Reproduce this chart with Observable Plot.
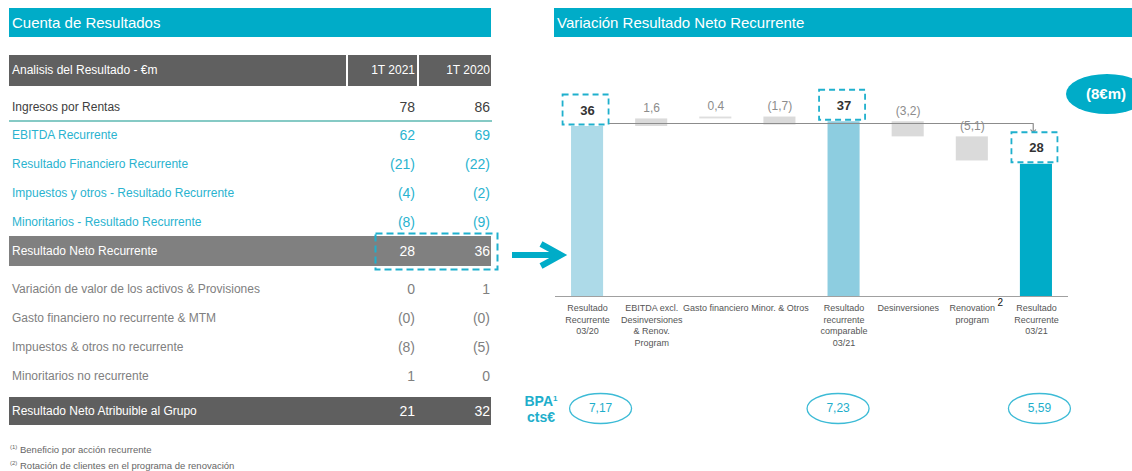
<!DOCTYPE html>
<html>
<head>
<meta charset="utf-8">
<script src="https://cdn.jsdelivr.net/npm/d3@7"></script>
<script src="https://cdn.jsdelivr.net/npm/@observablehq/plot@0.6"></script>
<style>
  html, body { margin: 0; padding: 0; background: #fff; }
  body { width: 1132px; height: 471px; overflow: hidden; font-family: "Liberation Sans", Arial, sans-serif; }
  #page { position: relative; width: 1132px; height: 471px; overflow: hidden; }
  .abs { position: absolute; }
  .hdr { background: #00ACC8; color: #fff; font-size: 15px; height: 29px; line-height: 29px; box-sizing: border-box; padding-left: 3px; }
  .row { position: absolute; left: 9px; width: 482px; height: 20px; line-height: 20px; }
  .row .lab { position: absolute; left: 3px; font-size: 12px; white-space: nowrap; }
  .row .v1 { position: absolute; right: 76px; font-size: 14px; }
  .row .v2 { position: absolute; right: 1px; font-size: 14px; }
  .foot { position: absolute; left: 10px; font-size: 9.5px; color: #666; white-space: nowrap; }
  .foot sup { font-size: 6px; vertical-align: 4px; }
</style>
</head>
<body>
<div id="page">
  <div class="abs hdr" style="left:9px;top:8px;width:482px;">Cuenta de Resultados</div>
  <div class="abs hdr" style="left:554px;top:8px;width:578px;">Variación Resultado Neto Recurrente</div>
  <div id="table"></div>
  <div id="chart" class="abs" style="left:540px;top:45px;"></div>
</div>
<script>
// ---------- Table data ----------
const tableHeader = ["Analisis del Resultado - €m", "1T 2021", "1T 2020"];
const tableLabels = [
  "Ingresos por Rentas",
  "EBITDA Recurrente",
  "Resultado Financiero Recurrente",
  "Impuestos y otros - Resultado Recurrente",
  "Minoritarios - Resultado Recurrente",
  "Resultado Neto Recurrente",
  "Variación de valor de los activos & Provisiones",
  "Gasto financiero no recurrente & MTM",
  "Impuestos & otros no recurrente",
  "Minoritarios no recurrente",
  "Resultado Neto Atribuible al Grupo"
];
const table2021 = ["78", "62", "(21)", "(4)", "(8)", "28", "0", "(0)", "(8)", "1", "21"];
const table2020 = ["86", "69", "(22)", "(2)", "(9)", "36", "1", "(0)", "(5)", "0", "32"];
const footnotes = [
  ["(1)", "Beneficio por acción recurrente"],
  ["(2)", "Rotación de clientes en el programa de renovación"]
];

// ---------- Chart data ----------
const steps = [
  "Resultado\nRecurrente\n03/20",
  "EBITDA excl.\nDesinversiones\n& Renov.\nProgram",
  "Gasto financiero",
  "Minor. & Otros",
  "Resultado\nrecurrente\ncomparable\n03/21",
  "Desinversiones",
  "Renovation\nprogram",
  "Resultado\nRecurrente\n03/21"
];
const stepValues = [36, 1.6, 0.4, -1.7, 37, -3.2, -5.1, 28];
const stepIsTotal = [true, false, false, false, true, false, false, true];
const stepLabels = ["36", "1,6", "0,4", "(1,7)", "37", "(3,2)", "(5,1)", "28"];
const stepNotes = ["", "", "", "", "", "", "2", ""];
const bpaSteps = [0, 4, 7];
const bpaLabels = ["7,17", "7,23", "5,59"];

// ---------- Table rendering (HTML) ----------
const tbl = document.getElementById("table");
const page = document.getElementById("page");
function addDiv(parent, style, html) {
  const d = document.createElement("div");
  d.style.cssText = style;
  if (html !== undefined) d.innerHTML = html;
  parent.appendChild(d);
  return d;
}
// header row
addDiv(tbl, "position:absolute;left:9px;top:55px;width:337px;height:31px;background:#606060;");
addDiv(tbl, "position:absolute;left:348px;top:55px;width:69px;height:31px;background:#606060;");
addDiv(tbl, "position:absolute;left:419px;top:55px;width:72px;height:31px;background:#606060;");
addDiv(tbl, "position:absolute;left:12px;top:55px;height:31px;line-height:31px;color:#fff;font-size:12px;", tableHeader[0]);
addDiv(tbl, "position:absolute;right:" + (1132 - 415) + "px;top:55px;height:31px;line-height:31px;color:#fff;font-size:12px;", tableHeader[1]);
addDiv(tbl, "position:absolute;right:" + (1132 - 490) + "px;top:55px;height:31px;line-height:31px;color:#fff;font-size:12px;", tableHeader[2]);
// teal separator
addDiv(tbl, "position:absolute;left:9px;top:120px;width:483px;height:2px;background:#86CAC5;");
// highlighted bars
addDiv(tbl, "position:absolute;left:9px;top:236px;width:482px;height:30px;background:#808080;");
addDiv(tbl, "position:absolute;left:9px;top:397px;width:482px;height:28px;background:#5F5F5F;");

const rowCenters = [107, 135, 164, 193, 222, 251, 289, 318, 347, 376, 411];
const rowColors = ["#404040", "#2AB3CF", "#2AB3CF", "#2AB3CF", "#2AB3CF", "#fff", "#808080", "#808080", "#808080", "#808080", "#fff"];
tableLabels.forEach((lab, i) => {
  const r = addDiv(tbl, "", "");
  r.className = "row";
  r.style.top = (rowCenters[i] - 10) + "px";
  r.style.color = rowColors[i];
  r.innerHTML = `<span class="lab">${lab}</span><span class="v1">${table2021[i]}</span><span class="v2">${table2020[i]}</span>`;
});
// dashed highlight box around recurrent result values
tbl.insertAdjacentHTML("beforeend",
  `<svg style="position:absolute;left:372px;top:231px" width="130" height="42">
     <rect x="3.5" y="2.5" width="122" height="36" fill="none" stroke="#1FB0CD" stroke-width="2" stroke-dasharray="7,4"/>
   </svg>`);
// footnotes
footnotes.forEach(([n, t], i) => {
  const f = addDiv(tbl, "", `<sup>${n}</sup> ${t}`);
  f.className = "foot";
  f.style.top = (444 + i * 16) + "px";
});
// big arrow
page.insertAdjacentHTML("beforeend",
  `<svg style="position:absolute;left:505px;top:236px" width="65" height="40">
     <line x1="7" y1="19" x2="55" y2="19" stroke="#00ACC8" stroke-width="6"/>
     <polyline points="36,8 56,19 36,30" fill="none" stroke="#00ACC8" stroke-width="6" stroke-linejoin="miter"/>
   </svg>`);
// difference bubble
const diff = stepValues[stepValues.length - 1] - stepValues[0];
addDiv(page, "position:absolute;left:1066px;top:74px;width:82px;height:40px;border-radius:50%;background:#00ACC8;");
addDiv(page, "position:absolute;left:1066px;top:74px;width:80px;height:40px;line-height:40px;text-align:center;color:#fff;font-weight:bold;font-size:15px;",
  `(${Math.abs(diff)}€m)`);
// BPA label
addDiv(page, "position:absolute;left:518px;top:391px;width:46px;text-align:center;color:#1EAECB;font-weight:bold;font-size:14px;line-height:16px;",
  "BPA<sup style='font-size:8px;vertical-align:5px'>1</sup><br>cts€");

// ---------- Waterfall (Plot) ----------
let running = 0;
const bars = stepValues.map((v, i) => {
  let y1, y2;
  if (stepIsTotal[i]) { y1 = 0; y2 = v; running = v; }
  else { y1 = running; y2 = running + v; running = y2; }
  return { i, y1, y2, top: Math.max(y1, y2), total: stepIsTotal[i], label: stepLabels[i], step: steps[i], note: stepNotes[i] };
});
const barColors = ["#ADDAE8", "#DADADA", "#DEDEDE", "#DADADA", "#8DCDE0", "#DADADA", "#DADADA", "#00ACC8"];
const totals = bars.filter(d => d.total);
const deltas = bars.filter(d => !d.total);
const bpa = bpaSteps.map((s, k) => ({ i: s, label: bpaLabels[k] }));
const bpaShift = [13, -6, 3]; // horizontal nudge of each BPA bubble, px
const half = 0.25;
const lastIdx = steps.length - 1;
const connector = [
  { x: -half - 0.11, y: stepValues[0] },
  { x: lastIdx - 0.05, y: stepValues[0] },
  { x: lastIdx - 0.05, y: stepValues[0] - 1.6 }
];

function ellipseSymbol(rx, ry) {
  const k = 0.5523;
  return { draw(ctx) {
    ctx.moveTo(rx, 0);
    ctx.bezierCurveTo(rx, ry * k, rx * k, ry, 0, ry);
    ctx.bezierCurveTo(-rx * k, ry, -rx, ry * k, -rx, 0);
    ctx.bezierCurveTo(-rx, -ry * k, -rx * k, -ry, 0, -ry);
    ctx.bezierCurveTo(rx * k, -ry, rx, -ry * k, rx, 0);
    ctx.closePath();
  }};
}
function boxSymbol(w, h) {
  return { draw(ctx) {
    ctx.moveTo(-w / 2, -h / 2);
    ctx.lineTo(w / 2, -h / 2);
    ctx.lineTo(w / 2, h / 2);
    ctx.lineTo(-w / 2, h / 2);
    ctx.closePath();
  }};
}

const bpaMarks = bpa.flatMap((d, k) => [
  Plot.dot([d], { x: "i", y: 0, dy: 112, dx: bpaShift[k], symbol: ellipseSymbol(31, 15), fill: "none", stroke: "#3DBBD6", strokeWidth: 1.3 }),
  Plot.text([d], { x: "i", y: 0, dy: 112, dx: bpaShift[k], text: "label", fontSize: 12, fill: "#1EAECB" })
]);

const chart = Plot.plot({
  width: 592,
  height: 390,
  marginLeft: 15,
  marginRight: 64,
  marginTop: 62.1,
  marginBottom: 139,
  x: { domain: [-0.5, 7.5], axis: null },
  y: { domain: [0, 40], axis: null },
  color: { type: "identity" },
  style: { fontFamily: "Liberation Sans, Arial, sans-serif", background: "transparent", overflow: "visible" },
  marks: [
    Plot.rect(bars, { x1: d => d.i - half, x2: d => d.i + half, y1: "y1", y2: "y2", fill: d => barColors[d.i] }),
    Plot.ruleY([0], { x1: -0.5, x2: 7.5, stroke: "#A0A0A0", strokeWidth: 1.2 }),
    Plot.line(connector, { x: "x", y: "y", dy: -3, stroke: "#8C8C8C", strokeWidth: 1.2, markerEnd: "arrow" }),
    Plot.dot(totals, { x: "i", y: "top", dy: -17, dx: -2, symbol: boxSymbol(46, 30), fill: "white", stroke: "#1FB0CD", strokeWidth: 1.8, strokeDasharray: "6,4" }),
    Plot.text(totals, { x: "i", y: "top", dy: -16, text: "label", fontSize: 13, fontWeight: "bold", fill: "#333" }),
    Plot.text(deltas, { x: "i", y: "top", dy: -11, text: "label", fontSize: 12, fill: "#8C8C8C" }),
    Plot.text(bars, { x: "i", y: 0, dy: 6, lineAnchor: "top", text: "step", fontSize: 9, lineHeight: 1.3, fill: "#555" }),
    Plot.text(bars.filter(d => d.note), { x: "i", y: 0, dy: 2, dx: 28, lineAnchor: "top", text: "note", fontSize: 10, fill: "#111" }),
    ...bpaMarks
  ]
});
document.getElementById("chart").appendChild(chart);
</script>
</body>
</html>
